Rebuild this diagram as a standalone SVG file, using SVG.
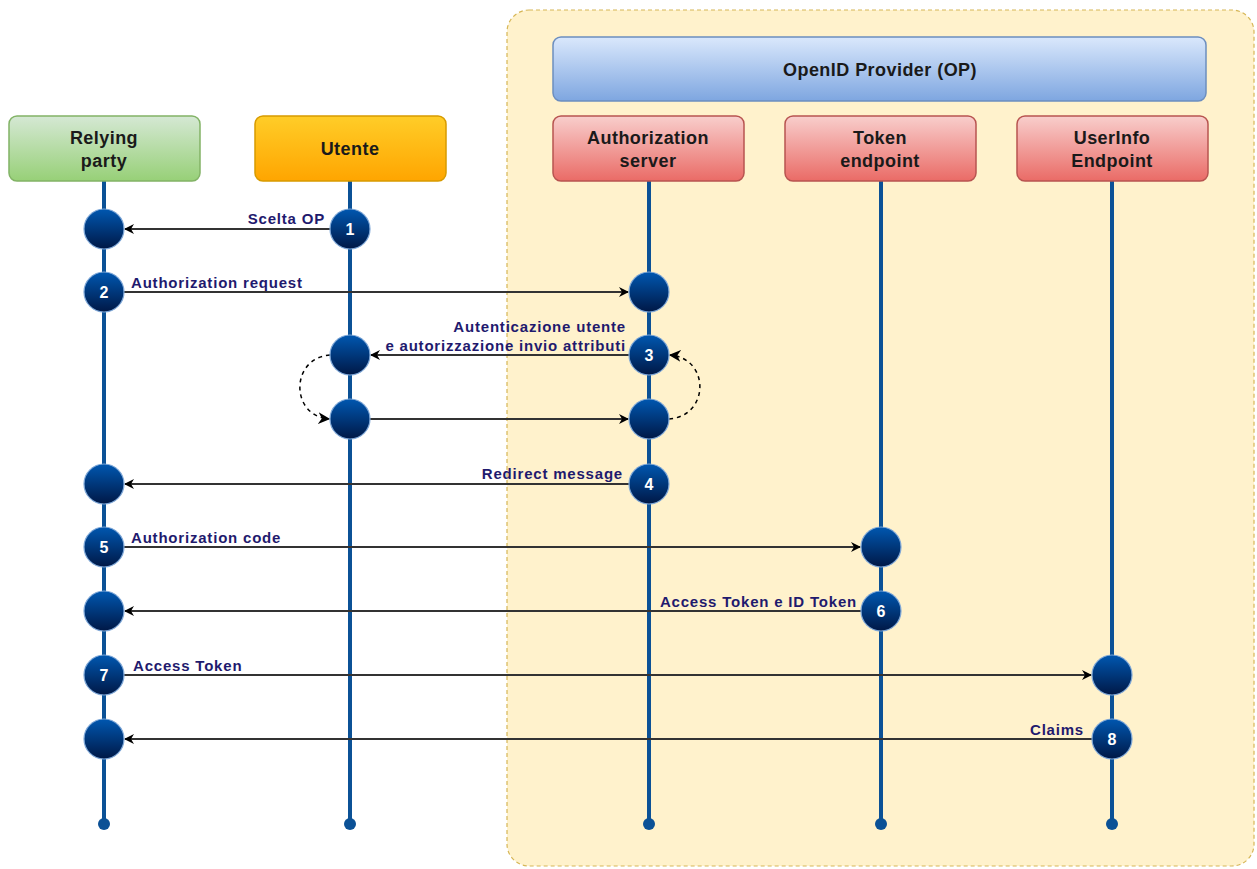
<svg xmlns="http://www.w3.org/2000/svg" width="1257" height="869" viewBox="0 0 1257 869">
<defs>
<linearGradient id="gGreen" x1="0" y1="0" x2="0" y2="1"><stop offset="0" stop-color="#d5e8d4"/><stop offset="1" stop-color="#97d077"/></linearGradient>
<linearGradient id="gOrange" x1="0" y1="0" x2="0" y2="1"><stop offset="0" stop-color="#ffcd28"/><stop offset="1" stop-color="#ffa500"/></linearGradient>
<linearGradient id="gRed" x1="0" y1="0" x2="0" y2="1"><stop offset="0" stop-color="#f8cecc"/><stop offset="1" stop-color="#ea6b66"/></linearGradient>
<linearGradient id="gBlue" x1="0" y1="0" x2="0" y2="1"><stop offset="0" stop-color="#dae8fc"/><stop offset="1" stop-color="#7ea6e0"/></linearGradient>
<linearGradient id="gDot" x1="0" y1="0" x2="0" y2="1"><stop offset="0" stop-color="#0057b0"/><stop offset="1" stop-color="#001846"/></linearGradient>
<marker id="arr" viewBox="0 0 10 10" refX="9" refY="5" markerWidth="10" markerHeight="10" markerUnits="userSpaceOnUse" orient="auto"><path d="M0,0 L10,5 L0,10 L3,5 Z" fill="#000"/></marker>
<marker id="arrS" viewBox="0 0 10 10" refX="9" refY="5" markerWidth="12" markerHeight="12" markerUnits="userSpaceOnUse" orient="auto"><path d="M0,0 L10,5 L0,10 L3,5 Z" fill="#000"/></marker>
</defs>
<style>
.box{stroke-width:1.5}
.nt{font-family:"Liberation Sans",Arial,sans-serif;font-weight:bold;font-size:18px;letter-spacing:0.45px;fill:#1a1a1a;text-anchor:middle}
.life{stroke:#0b5196;stroke-width:4}
.end{fill:#0b5196}
.dot{fill:url(#gDot);stroke:#7fa8d8;stroke-width:1.2}
.num{font-family:"Liberation Sans",Arial,sans-serif;font-weight:bold;font-size:16px;fill:#ffffff;text-anchor:middle}
.msg{stroke:#333;stroke-width:2;fill:none;marker-end:url(#arr)}
.lbl{font-family:"Liberation Sans",Arial,sans-serif;font-weight:bold;font-size:15px;letter-spacing:0.8px;fill:#1f1a6e}
.dash{stroke:#000;stroke-width:1.5;stroke-dasharray:4 4;fill:none;marker-end:url(#arrS)}
</style>
<rect x="507" y="10" width="747" height="856" rx="22" fill="#fff2cc" stroke="#d6b656" stroke-width="1.2" stroke-dasharray="4 3"/>
<g id="op"><rect class="box" x="553" y="37" width="653" height="64" rx="8" fill="url(#gBlue)" stroke="#6c8ebf"/><text class="nt" x="880" y="76">OpenID Provider (OP)</text></g>
<g id="lifelines">
<line class="life" x1="104" y1="181" x2="104" y2="824"/><circle class="end" cx="104" cy="824" r="6"/>
<line class="life" x1="350" y1="181" x2="350" y2="824"/><circle class="end" cx="350" cy="824" r="6"/>
<line class="life" x1="649" y1="181" x2="649" y2="824"/><circle class="end" cx="649" cy="824" r="6"/>
<line class="life" x1="881" y1="181" x2="881" y2="824"/><circle class="end" cx="881" cy="824" r="6"/>
<line class="life" x1="1112" y1="181" x2="1112" y2="824"/><circle class="end" cx="1112" cy="824" r="6"/>
</g>
<g id="rp"><rect class="box" x="9" y="116" width="191" height="65" rx="8" fill="url(#gGreen)" stroke="#82b366"/><text class="nt" x="104" y="144">Relying</text><text class="nt" x="104" y="167">party</text></g>
<g id="utente"><rect class="box" x="255" y="116" width="191" height="65" rx="8" fill="url(#gOrange)" stroke="#d79b00"/><text class="nt" x="350" y="155">Utente</text></g>
<g id="as"><rect class="box" x="553" y="116" width="191" height="65" rx="8" fill="url(#gRed)" stroke="#b85450"/><text class="nt" x="648" y="144">Authorization</text><text class="nt" x="648" y="167">server</text></g>
<g id="token"><rect class="box" x="785" y="116" width="191" height="65" rx="8" fill="url(#gRed)" stroke="#b85450"/><text class="nt" x="880" y="144">Token</text><text class="nt" x="880" y="167">endpoint</text></g>
<g id="userinfo"><rect class="box" x="1017" y="116" width="191" height="65" rx="8" fill="url(#gRed)" stroke="#b85450"/><text class="nt" x="1112" y="144">UserInfo</text><text class="nt" x="1112" y="167">Endpoint</text></g>
<g id="connectors">
<line class="msg" x1="330" y1="229" x2="125" y2="229"/>
<line class="msg" x1="124" y1="292" x2="628" y2="292"/>
<line class="msg" x1="629" y1="355" x2="371" y2="355"/>
<line class="msg" x1="370" y1="419" x2="628" y2="419"/>
<line class="msg" x1="629" y1="484" x2="125" y2="484"/>
<line class="msg" x1="124" y1="547" x2="860" y2="547"/>
<line class="msg" x1="861" y1="611" x2="125" y2="611"/>
<line class="msg" x1="124" y1="675" x2="1091" y2="675"/>
<line class="msg" x1="1092" y1="739" x2="125" y2="739"/>
<path class="dash" d="M330,355 C290,358 290,416 329,419"/>
<path class="dash" d="M669,419 C710,416 710,358 670,355"/>
</g>
<g id="labels">
<text class="lbl" x="325" y="224" text-anchor="end">Scelta OP</text>
<text class="lbl" x="131" y="288">Authorization request</text>
<text class="lbl" x="626" y="332" text-anchor="end">Autenticazione utente</text>
<text class="lbl" x="626" y="351" text-anchor="end">e autorizzazione invio attributi</text>
<text class="lbl" x="623" y="479" text-anchor="end">Redirect message</text>
<text class="lbl" x="131" y="543">Authorization code</text>
<text class="lbl" x="857" y="607" text-anchor="end">Access Token e ID Token</text>
<text class="lbl" x="133" y="671">Access Token</text>
<text class="lbl" x="1084" y="735" text-anchor="end">Claims</text>
</g>
<g id="activations">
<circle class="dot" cx="104" cy="229" r="20"/>
<circle class="dot" cx="350" cy="229" r="20"/><text class="num" x="350" y="235">1</text>
<circle class="dot" cx="104" cy="292" r="20"/><text class="num" x="104" y="298">2</text>
<circle class="dot" cx="649" cy="292" r="20"/>
<circle class="dot" cx="350" cy="355" r="20"/>
<circle class="dot" cx="649" cy="355" r="20"/><text class="num" x="649" y="361">3</text>
<circle class="dot" cx="350" cy="419" r="20"/>
<circle class="dot" cx="649" cy="419" r="20"/>
<circle class="dot" cx="104" cy="484" r="20"/>
<circle class="dot" cx="649" cy="484" r="20"/><text class="num" x="649" y="490">4</text>
<circle class="dot" cx="104" cy="547" r="20"/><text class="num" x="104" y="553">5</text>
<circle class="dot" cx="881" cy="547" r="20"/>
<circle class="dot" cx="104" cy="611" r="20"/>
<circle class="dot" cx="881" cy="611" r="20"/><text class="num" x="881" y="617">6</text>
<circle class="dot" cx="104" cy="675" r="20"/><text class="num" x="104" y="681">7</text>
<circle class="dot" cx="1112" cy="675" r="20"/>
<circle class="dot" cx="104" cy="739" r="20"/>
<circle class="dot" cx="1112" cy="739" r="20"/><text class="num" x="1112" y="745">8</text>
</g>
</svg>
